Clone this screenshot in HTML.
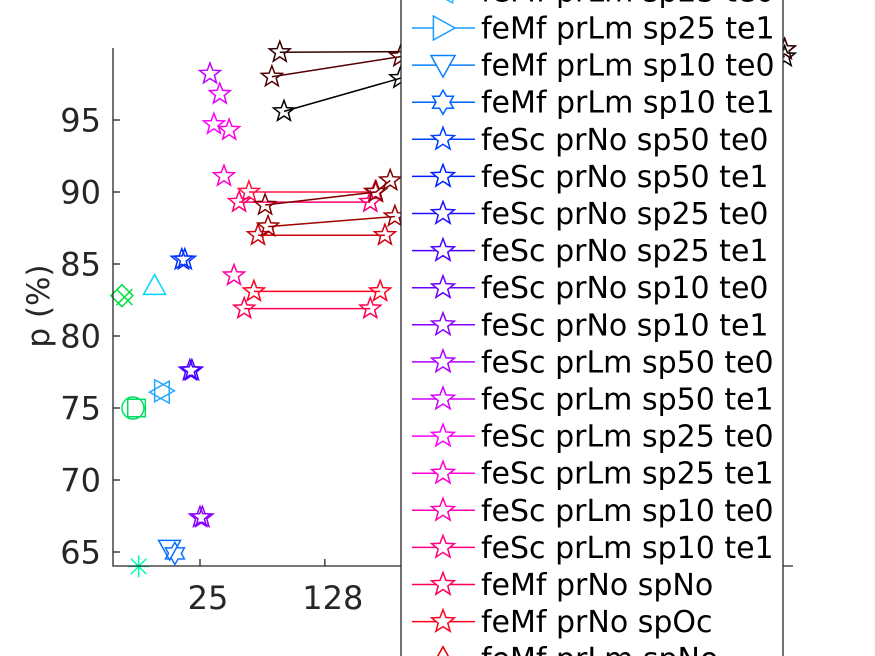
<!DOCTYPE html>
<html><head><meta charset="utf-8"><style>
html,body{margin:0;padding:0;background:#fff;width:875px;height:656px;overflow:hidden}
svg{display:block;font-family:"DejaVu Sans","Liberation Sans",sans-serif}
</style></head><body>
<svg id="chart" width="875" height="656" viewBox="0 0 875 656" xmlns="http://www.w3.org/2000/svg">
<g id="marks"></g>
<g id="axes"></g>
<g id="legend"></g>
</svg>
<script>
// ---- data ----
const seriesNames = ["feMf prLm sp25 te0","feMf prLm sp25 te1","feMf prLm sp10 te0","feMf prLm sp10 te1","feSc prNo sp50 te0","feSc prNo sp50 te1","feSc prNo sp25 te0","feSc prNo sp25 te1","feSc prNo sp10 te0","feSc prNo sp10 te1","feSc prLm sp50 te0","feSc prLm sp50 te1","feSc prLm sp25 te0","feSc prLm sp25 te1","feSc prLm sp10 te0","feSc prLm sp10 te1","feMf prNo spNo","feMf prNo spOc","feMf prLm spNo"];
const legendColors = ["#22b4ff","#1a9cff","#0a80ff","#0063ff","#0040ff","#0020ff","#2010ff","#4a00ff","#6a00ff","#8a00ff","#b000ff","#d400ff","#ff00ff","#ff00d8","#ff00b0","#ff0080","#ff0050","#ff0020","#e00000"];
const legendMarkers = ["tl","tr","td","hex","star","star","star","star","star","star","star","star","star","star","star","star","star","star","tu"];
const yTicks = [65,70,75,80,85,90,95];
const xTicks = [25,128];
const pointX = [9.0, 9.3, 13.8, 19.7, 20.5, 10.4, 10.9, 14.9, 15.5, 21.9, 22.5, 25, 25.8, 16.8, 18, 11.2, 28.5, 32.4, 30, 36.6, 34.2, 39];
const pointY = [82.8, 82.7, 83.5, 85.3, 85.3, 75.0, 75.0, 76.1, 76.2, 77.6, 77.6, 67.4, 67.4, 65.2, 64.9, 64.0, 98.2, 96.8, 94.7, 94.3, 91.1, 84.2];
const pointMarker = ["diamond","x","tu","star","star","circle","square","tl","tr","star","star","star","star","td","hex","asterisk","star","star","star","star","star","star"];
const pointColor = ["#00e040","#00e040","#00d8ff","#0030ff","#0030ff","#00e060","#00e060","#22a8ff","#22a8ff","#4a00ff","#4a00ff","#8a00ff","#8a00ff","#0a70ff","#0a70ff","#00ffb0","#c000ff","#e800ff","#ff00ff","#ff00e0","#ff00d0","#ff00a0"];
const lineX = [[47.4,247],[41.7,232],[53.4,281],[50.6,264],[44.6,232],[58.6,250,301],[60.9,320],[75,344,52500],[64,344,52500],[71,52500]];
const lineY = [[90.0,90.0],[89.3,89.3],[87.0,87.0],[83.1,83.1],[81.9,81.9],[89.1,90.0,90.8],[87.6,88.3],[95.6,97.9,99.4],[98.0,99.4,99.9],[99.7,99.9]];
const lineColor = ["#ff1040","#ff0070","#d00010","#ff0020","#ff0050","#800000","#a00000","#000000","#500000","#300000"];

// ---- scales ----
const X0=113, Y0=566, YT=48, XR=793;
function xs(v){return 200+176*Math.log10(v/25);}
function ys(v){return 120+(95-v)*14.4;}
const NS="http://www.w3.org/2000/svg";
function mk(tag,attrs,parent){const e=document.createElementNS(NS,tag);for(const k in attrs)e.setAttribute(k,attrs[k]);parent.appendChild(e);return e;}
function markerPath(type,cx,cy,r){
  let p="";
  if(type==="star"||type==="hex"){const n=type==="star"?5:6;const ri=type==="star"?r*0.42:r*0.58;
    for(let i=0;i<2*n;i++){const a=-Math.PI/2+i*Math.PI/n;const rr=i%2?ri:r;p+=(i?"L":"M")+(cx+rr*Math.cos(a)).toFixed(1)+","+(cy+rr*Math.sin(a)).toFixed(1);}return p+"Z";}
  if(type==="tu")return `M${cx},${cy-r}L${cx+r},${cy+r*0.8}L${cx-r},${cy+r*0.8}Z`;
  if(type==="td")return `M${cx},${cy+r}L${cx+r},${cy-r*0.8}L${cx-r},${cy-r*0.8}Z`;
  if(type==="tl")return `M${cx-r},${cy}L${cx+r*0.8},${cy-r}L${cx+r*0.8},${cy+r}Z`;
  if(type==="tr")return `M${cx+r},${cy}L${cx-r*0.8},${cy-r}L${cx-r*0.8},${cy+r}Z`;
  if(type==="diamond")return `M${cx},${cy-r}L${cx+r},${cy}L${cx},${cy+r}L${cx-r},${cy}Z`;
  if(type==="square")return `M${cx-r*0.8},${cy-r*0.8}h${1.6*r}v${1.6*r}h${-1.6*r}Z`;
  if(type==="circle")return `M${cx-r},${cy}a${r},${r} 0 1,0 ${2*r},0a${r},${r} 0 1,0 ${-2*r},0Z`;
  if(type==="x")return `M${cx-r},${cy-r}L${cx+r},${cy+r}M${cx+r},${cy-r}L${cx-r},${cy+r}`;
  if(type==="asterisk")return `M${cx-r},${cy}L${cx+r},${cy}M${cx},${cy-r}L${cx},${cy+r}M${cx-r*0.7},${cy-r*0.7}L${cx+r*0.7},${cy+r*0.7}M${cx+r*0.7},${cy-r*0.7}L${cx-r*0.7},${cy+r*0.7}`;
  return "";
}
const marks=document.getElementById('marks');
for(let s=0;s<lineX.length;s++){
  const pts=lineX[s].map((x,i)=>xs(x).toFixed(1)+","+ys(lineY[s][i]).toFixed(1)).join(" ");
  const pl=mk('polyline',{points:pts,fill:"none",stroke:lineColor[s],"stroke-width":1.5},marks);
  
  
  lineX[s].forEach((x,i)=>{
    const m=mk('path',{d:markerPath("star",xs(x),ys(lineY[s][i]),11),fill:"none",stroke:lineColor[s],"stroke-width":1.5},marks);
    
    
  });
}
for(let i=0;i<pointX.length;i++){
  const big = pointMarker[i]==="x"?8:11;
  const m=mk('path',{d:markerPath(pointMarker[i],xs(pointX[i]),ys(pointY[i]),big),fill:"none",stroke:pointColor[i],"stroke-width":1.5},marks);
  
  
}
const ax=document.getElementById('axes');
mk('path',{d:`M${X0},${YT}V${Y0}H${XR}`,fill:"none",stroke:"#262626","stroke-width":1.3},ax);
yTicks.forEach(v=>{
  mk('line',{x1:X0,x2:X0+7,y1:ys(v),y2:ys(v),stroke:"#262626","stroke-width":1.3},ax);
  const t=mk('text',{x:X0-12,y:ys(v)+11.5,"text-anchor":"end","font-size":32,fill:"#262626"},ax);
  t.textContent=v;
  
  
});
xTicks.forEach(v=>{
  mk('line',{x1:xs(v),x2:xs(v),y1:Y0,y2:Y0-7,stroke:"#262626","stroke-width":1.3},ax);
  const t=mk('text',{x:xs(v)+8,y:609,"text-anchor":"middle","font-size":32,fill:"#262626"},ax);
  t.textContent=v;
  
  
});
const yl=mk('text',{x:0,y:0,transform:"translate(49,306) rotate(-90)","text-anchor":"middle","font-size":31,fill:"#262626"},ax);
yl.textContent="p (%)";


const lg=document.getElementById('legend');
const box=mk('rect',{x:401,y:-20,width:382,height:700,fill:"#fff",stroke:"#262626","stroke-width":1.3},lg);


seriesNames.forEach((n,i)=>{
  const cy=28+(i-1)*37.1;
  const g=mk('g',{},lg);
  
  
  mk('line',{x1:412,x2:475,y1:cy,y2:cy,stroke:legendColors[i],"stroke-width":1.5},g);
  mk('path',{d:markerPath(legendMarkers[i],443,cy,12),fill:"#fff",stroke:legendColors[i],"stroke-width":1.5},g);
  const t=mk('text',{x:481,y:cy+10.5,"font-size":30,fill:"#000"},g);
  t.textContent=n;
});
</script>
</body></html>
